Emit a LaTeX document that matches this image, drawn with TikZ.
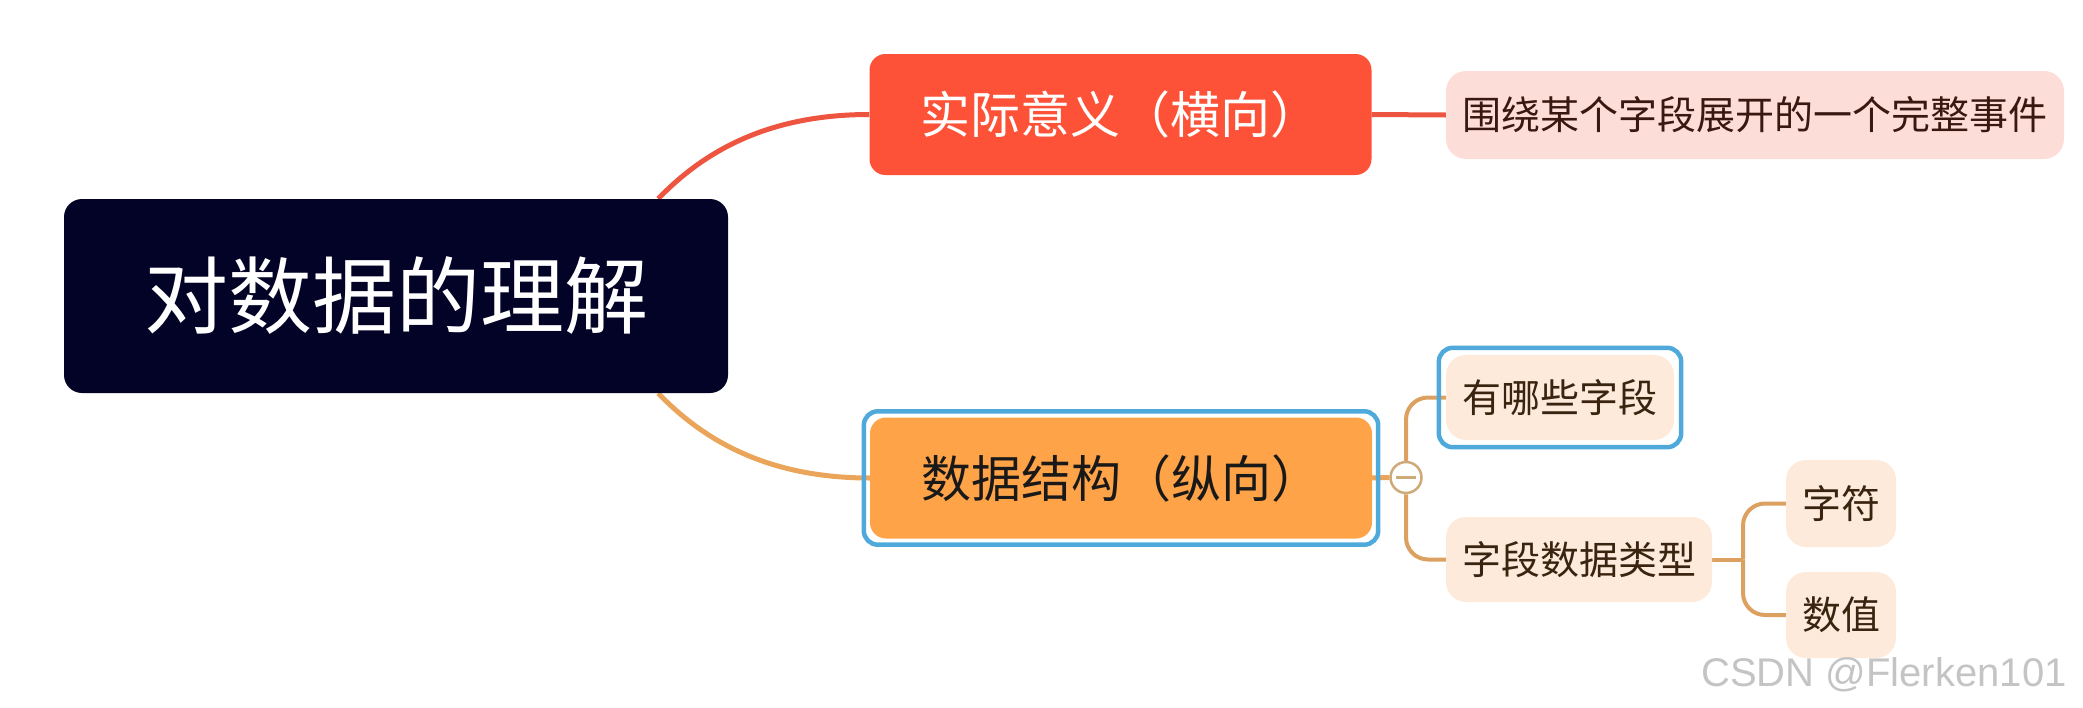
\documentclass[tikz,border=0pt]{standalone}
\usepackage{fontspec}
\setmainfont{Noto Sans CJK SC}
\newfontfamily\wmfont{Liberation Sans}
\pgfdeclarelayer{background}
\pgfsetlayers{background,main}
\definecolor{rootfill}{HTML}{020326}
\definecolor{redfill}{HTML}{FD5237}
\definecolor{redline}{HTML}{EE5540}
\definecolor{pinkfill}{HTML}{FDDDD8}
\definecolor{pinktext}{HTML}{3A1812}
\definecolor{orfill}{HTML}{FFA348}
\definecolor{orline}{HTML}{EAA55B}
\definecolor{beigefill}{HTML}{FDEADB}
\definecolor{leaftext}{HTML}{3A2410}
\definecolor{tanline}{HTML}{DCA160}
\definecolor{foldline}{HTML}{CDAA78}
\definecolor{selblue}{HTML}{4FAADB}
\definecolor{wmgray}{HTML}{C4C4C4}
\begin{document}
\begin{tikzpicture}[x=1pt,y=-1pt,
  rootbox/.style={fill=rootfill, text=white, rounded corners=18pt, minimum width=664pt, minimum height=194pt, inner sep=0pt, font=\fontsize{84pt}{90pt}\selectfont},
  mainbox/.style={rounded corners=16pt, minimum width=502pt, minimum height=121pt, inner sep=0pt, font=\fontsize{50pt}{55pt}\selectfont},
  leafbox/.style={fill=beigefill, text=leaftext, rounded corners=20pt, minimum height=86pt, inner sep=0pt, font=\fontsize{39pt}{44pt}\selectfont},
  selring/.style={draw=selblue, line width=4.5pt, rounded corners=14pt},
  redlink/.style={draw=redline, line width=5pt},
  orlink/.style={draw=orline, line width=5pt},
  tanlink/.style={draw=tanline, line width=4pt, rounded corners=22pt},
]
\useasboundingbox (0,0) rectangle (2083,707);
% nodes
\node[rootbox] (root) at (396,296) {对数据的理解};
\node[mainbox, fill=redfill, text=white] (horiz) at (1120.5,114.5) {实际意义（横向）};
\node[leafbox, fill=pinkfill, text=pinktext, minimum width=618pt, minimum height=88pt] (event) at (1755,115) {围绕某个字段展开的一个完整事件};
\node[mainbox, fill=orfill, text=black!90] (vert) at (1121,478) {数据结构（纵向）};
\node[circle, draw=foldline, fill=white, line width=2.5pt, minimum size=31pt, inner sep=0pt] (fold) at (1406,477.5) {};
\node[leafbox, minimum width=228pt, minimum height=85pt] (fields) at (1560,397.5) {有哪些字段};
\node[leafbox, minimum width=266pt, minimum height=85pt] (dtype) at (1579,559.5) {字段数据类型};
\node[leafbox, minimum width=110pt, minimum height=87pt] (chr) at (1841,503.5) {字符};
\node[leafbox, minimum width=110pt, minimum height=86pt] (num) at (1841,615) {数值};
\coordinate (br) at (1743,559.5);
\node[text=wmgray, font=\wmfont\fontsize{40pt}{44pt}\selectfont, inner sep=0pt] (wm) at (1884,675) {CSDN @Flerken101};
% selection rings
\draw[selring] ([shift={(-6pt,6pt)}]vert.north west) rectangle ([shift={(6pt,-6pt)}]vert.south east);
\draw[selring] ([shift={(-7pt,7pt)}]fields.north west) rectangle ([shift={(7pt,-7pt)}]fields.south east);
% fold minus
\draw[foldline, line width=2.5pt] ([xshift=-10pt]fold.center) -- ([xshift=10pt]fold.center);
% connectors
\begin{pgfonlayer}{background}
\draw[redlink] ([xshift=-70pt]root.north east) .. controls (705,150) and (770,114.5) .. (horiz.west);
\draw[redlink] (horiz.east) -- (event.west);
\draw[orlink] ([xshift=-70pt]root.south east) .. controls (705,442) and (770,478) .. (vert.west);
\draw[orlink] (vert.east) -- (fold.west);
\draw[tanlink] (fold.north) |- (fields.west);
\draw[tanlink] (fold.south) |- (dtype.west);
\draw[tanlink] (dtype.east) -- (br);
\draw[tanlink] (br) |- (chr.west);
\draw[tanlink] (br) |- (num.west);
\end{pgfonlayer}
\end{tikzpicture}
\end{document}
